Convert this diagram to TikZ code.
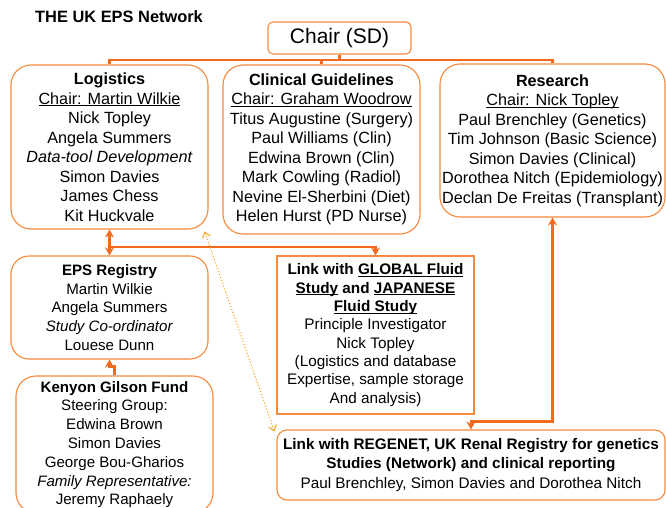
\documentclass[tikz,border=0pt]{standalone}
\usepackage{fontspec}
\setmainfont{Liberation Sans}
\usetikzlibrary{arrows.meta}
\definecolor{boxor}{HTML}{F7893A}
\definecolor{lineor}{HTML}{F26A1E}
\definecolor{dotor}{HTML}{F7A823}
\newcommand\ulx[1]{\underline{\smash{#1}}}
\begin{document}
\begin{tikzpicture}[x=1pt,y=-1pt,
  box/.style={draw=boxor, line width=1.1pt, rounded corners=20pt, inner sep=0pt, align=center,
    font=\fontsize{16.2}{19.5}\selectfont},
  smallbox/.style={box, font=\fontsize{15.1}{18.8}\selectfont},
  conn/.style={draw=lineor, line width=2.2pt},
  tip/.style={-{Stealth[length=8pt,width=9pt]}},
  dtip/.style={{Stealth[length=8pt,width=9pt]}-{Stealth[length=8pt,width=9pt]}},
  dotconn/.style={draw=dotor, line width=1.1pt, dotted,
    {Straight Barb[length=5pt,width=8pt]}-{Straight Barb[length=5pt,width=8pt]}}
]
\useasboundingbox (0,0) rectangle (666,508);
\fill[white] (0,0) rectangle (666,508);

\node[anchor=west, inner sep=0pt, font=\fontsize{16.4}{19}\selectfont\bfseries] (title) at (35,17) {THE UK EPS Network};

\node[box, rounded corners=5pt, minimum width=143pt, minimum height=32pt, font=\fontsize{21}{24}\selectfont] (chair) at (339.5,38) {Chair (SD)};

\node[box, minimum width=197pt, minimum height=164pt] (log) at (109.5,147)
 {\textbf{Logistics}\\\ulx{Chair: Martin Wilkie}\\Nick Topley\\Angela Summers\\\textit{Data-tool Development}\\Simon Davies\\James Chess\\Kit Huckvale};

\node[box, minimum width=197pt, minimum height=169pt] (cli) at (321.5,149.5)
 {\textbf{Clinical Guidelines}\\\ulx{Chair: Graham Woodrow}\\Titus Augustine (Surgery)\\Paul Williams (Clin)\\Edwina Brown (Clin)\\Mark Cowling (Radiol)\\Nevine El-Sherbini (Diet)\\Helen Hurst (PD Nurse)};

\node[box, minimum width=225pt, minimum height=153pt] (res) at (552.5,140.5)
 {\textbf{Research}\\\ulx{Chair: Nick Topley}\\Paul Brenchley (Genetics)\\Tim Johnson (Basic Science)\\Simon Davies (Clinical)\\Dorothea Nitch (Epidemiology)\\Declan De Freitas (Transplant)};

\node[smallbox, rounded corners=18pt, minimum width=197pt, minimum height=103pt] (eps) at (109.5,307.5)
 {\textbf{EPS Registry}\\Martin Wilkie\\Angela Summers\\\textit{Study Co-ordinator}\\Louese Dunn};

\node[smallbox, minimum width=197pt, minimum height=137pt] (ken) at (114.5,444.5)
 {\textbf{Kenyon Gilson Fund}\\Steering Group:\\Edwina Brown\\Simon Davies\\George Bou-Gharios\\\textit{Family Representative:}\\Jeremy Raphaely};

\node[box, rounded corners=0pt, minimum width=197pt, minimum height=158pt, font=\fontsize{15.3}{18.3}\selectfont] (glob) at (375.5,335)
 {\textbf{Link with \ulx{GLOBAL Fluid}}\\\textbf{\ulx{Study} and \ulx{JAPANESE}}\\\textbf{\ulx{Fluid Study}}\\Principle Investigator\\Nick Topley\\(Logistics and database\\Expertise, sample storage\\And analysis)};

\node[box, rounded corners=10pt, minimum width=388pt, minimum height=70pt, font=\fontsize{15.3}{19.5}\selectfont] (reg) at (471,465)
 {\textbf{Link with REGENET, UK Renal Registry for genetics}\\\textbf{Studies (Network) and clinical reporting}\\Paul Brenchley, Simon Davies and Dorothea Nitch};

% tree from chair
\coordinate (bus) at (339.5,60);
\draw[conn] (chair.south) -- (bus);
\draw[conn] (log.north) -- (log.north |- bus) -- (res.north |- bus) -- (res.north);
\draw[conn] (cli.north) -- (cli.north |- bus);

% logistics <-> EPS registry, and link to GLOBAL
\coordinate (lk) at (109.5,247);
\draw[conn, dtip] (log.south) -- (eps.north);
\draw[conn, tip] (lk) -- (glob.north |- lk) -- (glob.north);

% Kenyon -> EPS
\draw[conn, tip] (ken.north) -- ++(0,-9) -| (eps.south);

% Research <-> REGENET
\draw[conn, dtip] (res.south) -- ++(0,204) -| (reg.north);

% dotted link
\draw[dotconn] ([xshift=-4pt,yshift=-2pt]log.south east) -- ([xshift=-2pt,yshift=-2pt]reg.north west);
\end{tikzpicture}
\end{document}
